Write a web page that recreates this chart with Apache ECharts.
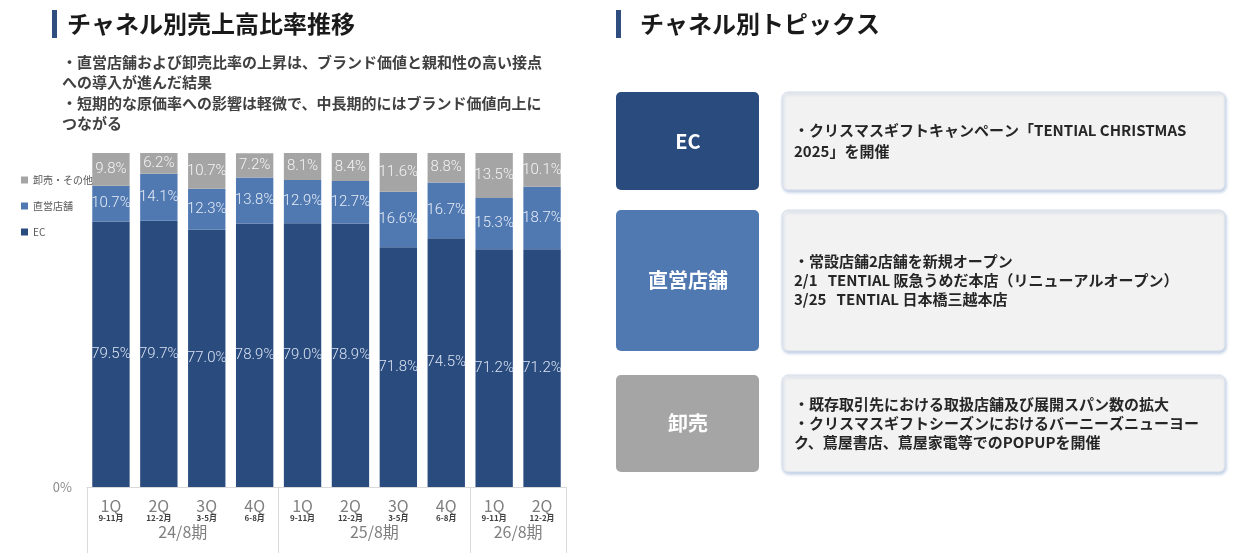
<!DOCTYPE html>
<html lang="ja">
<head>
<meta charset="utf-8">
<title>チャネル別売上高比率推移</title>
<script src="https://cdn.jsdelivr.net/npm/echarts@6/dist/echarts.min.js"></script>
<style>
  html, body { margin: 0; padding: 0; background: #fff; }
  #chart { width: 1244px; height: 560px; }
</style>
</head>
<body>
<div id="chart"></div>
<script>
// data
const quarters = ['1Q', '2Q', '3Q', '4Q', '1Q', '2Q', '3Q', '4Q', '1Q', '2Q']
const months = ['9-11月', '12-2月', '3-5月', '6-8月', '9-11月', '12-2月', '3-5月', '6-8月', '9-11月', '12-2月']
const periods = ['24/8期', '25/8期', '26/8期']
const periodSizes = [4, 4, 2]
const ecShare = [79.5, 79.7, 77.0, 78.9, 79.0, 78.9, 71.8, 74.5, 71.2, 71.2]
const storeShare = [10.7, 14.1, 12.3, 13.8, 12.9, 12.7, 16.6, 16.7, 15.3, 18.7]
const wholesaleShare = [9.8, 6.2, 10.7, 7.2, 8.1, 8.4, 11.6, 8.8, 13.5, 10.1]
const legendOrder = ['卸売・その他', '直営店舗', 'EC']
const notes = [
  '・直営店舗および卸売比率の上昇は、ブランド価値と親和性の高い接点',
  'への導入が進んだ結果',
  '・短期的な原価率への影響は軽微で、中長期的にはブランド価値向上に',
  'つながる'
]
const topicNames = ['EC', '直営店舗', '卸売']
const topicTexts = [
  '・クリスマスギフトキャンペーン「TENTIAL CHRISTMAS\n2025」を開催',
  '・常設店舗2店舗を新規オープン\n2/1   TENTIAL 阪急うめだ本店（リニューアルオープン）\n3/25   TENTIAL 日本橋三越本店',
  '・既存取引先における取扱店舗及び展開スパン数の拡大\n・クリスマスギフトシーズンにおけるバーニーズニューヨー\nク、蔦屋書店、蔦屋家電等でのPOPUPを開催'
]

const JP = "'Noto Sans CJK JP', sans-serif"
const C_EC = '#294b7d', C_STORE = '#5079b2', C_WHOLE = '#a5a5a5'

// period group centers / boundaries on a -0.5..n-0.5 value axis
const bounds = [-0.5], centers = []
periodSizes.reduce((start, n) => {
  centers.push(start + (n - 1) / 2)
  bounds.push(start + n - 0.5)
  return start + n
}, 0)

function barSeries(name, data, color, labelColor) {
  return {
    name, type: 'bar', stack: 'share', data, barCategoryGap: '22%',
    itemStyle: { color },
    label: {
      show: true, position: 'inside', formatter: p => p.value.toFixed(1) + '%',
      color: labelColor, fontSize: 15, fontWeight: 300, fontFamily: 'Roboto, sans-serif'
    }
  }
}

// right side topic panels
const boxTops = [92, 210, 375], boxHeights = [98, 141, 97], lineHeights = [21, 19, 19]
const topicColors = [C_EC, C_STORE, C_WHOLE]
const topicGraphics = []
topicNames.forEach((name, i) => {
  const y = boxTops[i], h = boxHeights[i]
  const lines = topicTexts[i].split('\n').length
  topicGraphics.push(
    { type: 'rect', shape: { x: 616, y, width: 143, height: h, r: 5 }, style: { fill: topicColors[i] } },
    { type: 'text', x: 688, y: y + h / 2, style: { text: name, fill: '#fff', fontSize: 20, fontWeight: 'bold', fontFamily: JP, align: 'center', verticalAlign: 'middle' } },
    { type: 'rect', shape: { x: 782, y, width: 443, height: h, r: 6 },
      style: { fill: '#f2f2f2', stroke: '#d6deea', lineWidth: 1, shadowBlur: 3, shadowOffsetX: 1, shadowOffsetY: 2, shadowColor: 'rgba(120,150,200,0.45)' } },
    { type: 'text', x: 794, y: y + h / 2 - (lines * lineHeights[i]) / 2,
      style: { text: topicTexts[i], fill: '#262626', fontSize: 15, fontWeight: 'bold', fontFamily: JP, lineHeight: lineHeights[i], verticalAlign: 'top' } }
  )
})

const chart = echarts.init(document.getElementById('chart'))
chart.setOption({
  animation: false,
  textStyle: { fontFamily: JP },
  grid: { left: 87, right: 678, top: 153, bottom: 73 },
  legend: {
    data: legendOrder, orient: 'vertical', left: 16, top: 170, itemGap: 16,
    itemWidth: 7, itemHeight: 7, icon: 'rect',
    textStyle: { fontSize: 10, color: '#595959', fontFamily: JP }
  },
  xAxis: [{
    type: 'category', data: quarters, position: 'bottom',
    axisLine: { lineStyle: { color: '#d9d9d9' } }, axisTick: { show: false },
    axisLabel: {
      interval: 0, margin: 11,
      formatter: (v, i) => `{q|${v}}\n{m|${months[i]}}`,
      rich: {
        q: { fontSize: 16, color: '#7f7f7f', lineHeight: 15, fontFamily: JP },
        m: { fontSize: 8, fontWeight: 'bold', color: '#404040', lineHeight: 9, fontFamily: JP }
      }
    }
  }, {
    type: 'value', position: 'bottom', min: -0.5, max: quarters.length - 0.5,
    axisLine: { show: false }, splitLine: { show: false },
    axisTick: { show: true, customValues: bounds, length: 66, lineStyle: { color: '#d9d9d9' } },
    axisLabel: {
      customValues: centers, margin: 37, fontSize: 16, color: '#7f7f7f', fontFamily: JP,
      formatter: v => periods[centers.indexOf(v)]
    }
  }],
  yAxis: {
    type: 'value', min: 0, max: 100,
    axisLine: { show: false }, axisTick: { show: false }, splitLine: { show: false },
    axisLabel: { customValues: [0], formatter: '{value}%', color: '#8c8c8c', fontSize: 13, margin: 15 }
  },
  series: [
    barSeries('EC', ecShare, C_EC, '#dae3f3'),
    barSeries('直営店舗', storeShare, C_STORE, '#e6ecf6'),
    barSeries('卸売・その他', wholesaleShare, C_WHOLE, '#f4f4f4')
  ],
  graphic: [
    { type: 'rect', shape: { x: 52, y: 10, width: 5, height: 28 }, style: { fill: '#2f4d7e' } },
    { type: 'text', x: 67, y: 24, style: { text: 'チャネル別売上高比率推移', fill: '#1a1a1a', fontSize: 24, fontWeight: 'bold', fontFamily: JP, verticalAlign: 'middle' } },
    { type: 'text', x: 62, y: 52, style: { text: notes.join('\n'), fill: '#404040', fontSize: 15, fontWeight: 'bold', fontFamily: JP, lineHeight: 20.5, verticalAlign: 'top' } },
    { type: 'rect', shape: { x: 616, y: 10, width: 5, height: 28 }, style: { fill: '#2f4d7e' } },
    { type: 'text', x: 640, y: 24, style: { text: 'チャネル別トピックス', fill: '#1a1a1a', fontSize: 24, fontWeight: 'bold', fontFamily: JP, verticalAlign: 'middle' } },
    ...topicGraphics
  ]
})
</script>
</body>
</html>
